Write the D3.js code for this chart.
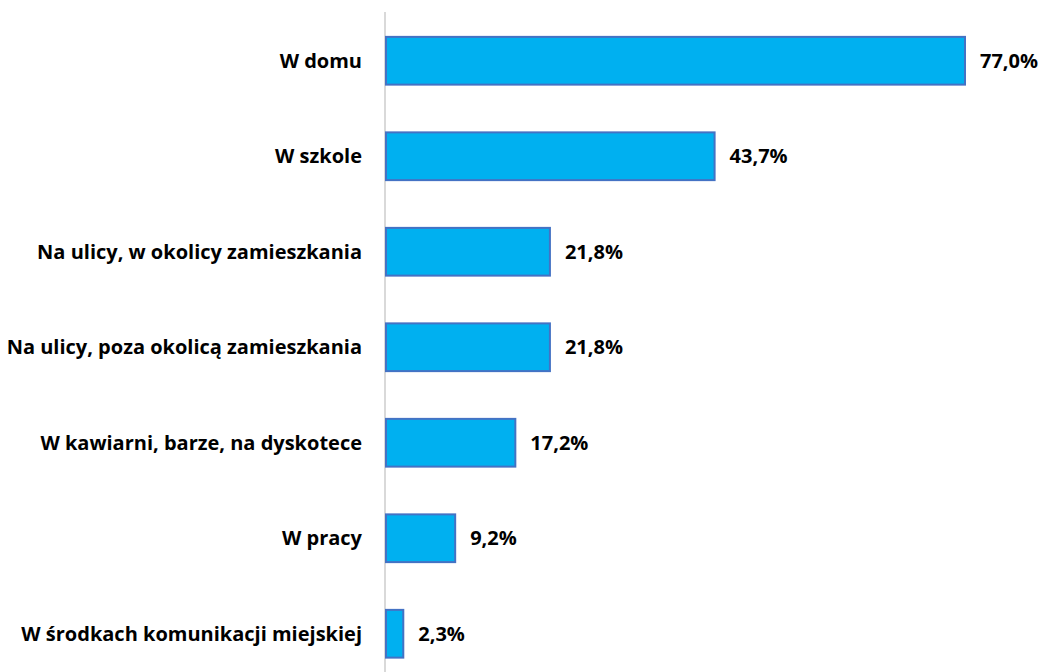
<!DOCTYPE html>
<html><head><meta charset="utf-8">
<script src="https://cdn.jsdelivr.net/npm/d3@7"></script>
<style>body{margin:0;background:#fff}svg{display:block}</style>
</head><body>
<svg id="c" width="1043" height="672"></svg>
<script>
const categories = ["W domu","W szkole","Na ulicy, w okolicy zamieszkania","Na ulicy, poza okolicą zamieszkania","W kawiarni, barze, na dyskotece","W pracy","W środkach komunikacji miejskiej"];
const values = [77.0,43.7,21.8,21.8,17.2,9.2,2.3];
const valueLabels = ["77,0%","43,7%","21,8%","21,8%","17,2%","9,2%","2,3%"];

const svg = d3.select("#c");
const x0 = 386;
const x = d3.scaleLinear().domain([0,77]).range([x0,965]);
const y = d3.scaleBand().domain(categories).range([13,681.5]).paddingInner(0.5).paddingOuter(0.25);
const font = "'Open Sans', 'Liberation Sans', sans-serif";

svg.append("line").attr("x1",x0-1).attr("x2",x0-1).attr("y1",12).attr("y2",672)
  .attr("stroke","#d9d9d9").attr("stroke-width",2);

svg.selectAll("rect.bar").data(values).join("rect").attr("class","bar")
  .attr("x",x(0)).attr("y",(d,i)=>y(categories[i]))
  .attr("width",d=>x(d)-x(0)).attr("height",y.bandwidth())
  .attr("fill","#00B0F0").attr("stroke","#4472C4").attr("stroke-width",2);

svg.selectAll("text.val").data(values).join("text").attr("class","val")
  .attr("x",d=>x(d)+15).attr("y",(d,i)=>y(categories[i])+y.bandwidth()/2)
  .attr("dy","0.36em").attr("font-family",font).attr("font-weight","bold")
  .attr("font-size",20).attr("fill","#000").text((d,i)=>valueLabels[i]);

svg.selectAll("text.cat").data(categories).join("text").attr("class","cat")
  .attr("x",362).attr("y",d=>y(d)+y.bandwidth()/2)
  .attr("dy","0.36em").attr("text-anchor","end").attr("font-family",font).attr("font-weight","bold")
  .attr("font-size",20).attr("fill","#000").text(d=>d);
</script>
</body></html>
